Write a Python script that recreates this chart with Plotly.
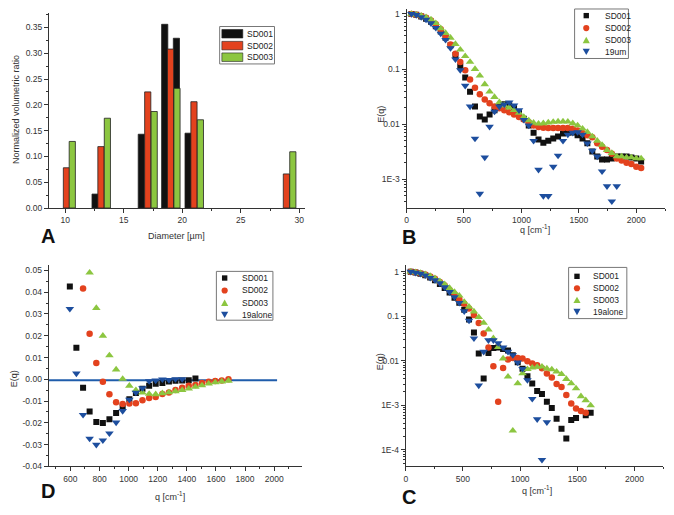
import plotly.graph_objects as go

# The page body adds an 8px margin, so the figure is sized/placed to compensate.
OFF = 8
W, H = 674 - OFF, 515 - OFF

# ---------------- Panel A : size distribution (bars) ----------------
a_sd001_x = [12.55, 16.5, 18.5, 19.5, 20.5]
a_sd001_y = [0.027, 0.143, 0.356, 0.329, 0.145]
a_sd002_x = [10.1, 13.05, 17.05, 19.0, 21.0, 28.9]
a_sd002_y = [0.078, 0.119, 0.225, 0.308, 0.206, 0.066]
a_sd003_x = [10.6, 13.6, 17.6, 19.55, 21.55, 29.45]
a_sd003_y = [0.129, 0.174, 0.187, 0.232, 0.171, 0.109]

# ---------------- Panel B : E(q) log ----------------
q_b = [43, 85, 128, 170, 213, 255, 298, 340, 383, 426, 468, 511, 553, 596, 638, 681,
       723, 766, 808, 851, 894, 936, 979, 1021, 1064, 1106, 1149, 1191, 1234, 1277,
       1319, 1362, 1404, 1447, 1489, 1532, 1574, 1617, 1660, 1702, 1745, 1787, 1830,
       1872, 1915, 1957, 2000, 2042]
b_sd001 = [1.0, 0.97, 0.9, 0.82, 0.72, 0.6, 0.48, 0.37, 0.27, 0.18,
           0.113, 0.07, 0.039, 0.021, 0.0138, 0.0122, 0.015, 0.018, 0.021, 0.023,
           0.022, 0.02, 0.016, 0.0125, 0.0095, 0.007, 0.0053, 0.0046, 0.005, 0.0055,
           0.006, 0.0068, 0.0071, 0.0071, 0.0063, 0.0055, 0.0045, 0.0032, 0.0026, 0.0023,
           0.0023, 0.0024, 0.0026, 0.0026, 0.0026, 0.0025, 0.0024, 0.0021]
b_sd002 = [1.0, 0.97, 0.92, 0.85, 0.76, 0.65, 0.53, 0.4, 0.28, 0.19,
           0.135, 0.095, 0.065, 0.046, 0.035, 0.028, 0.024, 0.021, 0.0195, 0.018,
           0.0165, 0.015, 0.0135, 0.0122, 0.0109, 0.0095, 0.0089, 0.0086, 0.0085, 0.0085,
           0.0085, 0.0085, 0.0085, 0.0083, 0.0077, 0.0069, 0.0063, 0.0058, 0.0045, 0.0039,
           0.0034, 0.0029, 0.0024, 0.0022, 0.002, 0.0019, 0.0017, 0.0016]
b_sd003 = [1.0, 0.97, 0.93, 0.87, 0.79, 0.68, 0.55, 0.45, 0.37, 0.285,
           0.225, 0.171, 0.135, 0.1, 0.076, 0.053, 0.039, 0.031, 0.025, 0.022,
           0.02, 0.018, 0.016, 0.0135, 0.0117, 0.0106, 0.0102, 0.0104, 0.0107, 0.011,
           0.0112, 0.0112, 0.0111, 0.0104, 0.0095, 0.0083, 0.0072, 0.006, 0.005, 0.0042,
           0.0034, 0.003, 0.0026, 0.0026, 0.0025, 0.0025, 0.0024, 0.0024]
b_19um = [1.0, 0.96, 0.88, 0.79, 0.68, 0.56, 0.44, 0.34, 0.24, 0.15,
          0.096, 0.05, 0.021, 0.0055, 0.00055, 0.0025, 0.009, 0.017, 0.021, 0.023,
          0.025, 0.022, 0.018, 0.012, 0.0095, 0.005, 0.0015, 0.0005, 0.0005, 0.0017,
          0.0027, 0.005, 0.0065, 0.007, 0.0072, 0.0065, 0.0045, 0.0033, 0.0026, 0.0014,
          0.00075, 0.0004, 0.00075]

# ---------------- Panel C : E(q) log ----------------
q_c = q_b[:38]
c_sd001 = [1.0, 0.96, 0.9, 0.83, 0.74, 0.64, 0.53, 0.43, 0.34, 0.26,
           0.2, 0.14, 0.085, 0.043, 0.0145, 0.004, 0.015, 0.0195, 0.02, 0.0185,
           0.017, 0.0133, 0.0093, 0.0066, 0.0045, 0.0031, 0.0021, 0.0018, 0.0012, 0.00087,
           0.0005, 0.0003, 0.00018, 0.00047, 0.00052, None, 0.0006, 0.00068]
c_sd002 = [1.0, 0.97, 0.92, 0.86, 0.78, 0.69, 0.59, 0.49, 0.39, 0.31,
           0.24, 0.19, 0.15, 0.107, 0.071, 0.041, 0.02, 0.0076, 0.0012, 0.0069,
           0.0107, 0.0116, 0.0116, 0.0112, 0.0098, 0.0087, 0.008, 0.0068, 0.0052, 0.0042,
           0.003, 0.0026, 0.0017, 0.0011, 0.00085, 0.00075, 0.00068, None]
c_sd003 = [1.0, 0.97, 0.93, 0.87, 0.8, 0.71, 0.61, 0.52, 0.43, 0.35,
           0.29, 0.21, 0.163, 0.127, 0.095, 0.071, 0.05, 0.032, 0.0204, 0.0112,
           0.0044, 0.00027, 0.0031, 0.0052, 0.0065, 0.007, 0.0073, 0.0074, 0.0067, 0.0064,
           0.0057, 0.005, 0.0039, 0.0031, 0.0024, 0.0016, 0.0013, 0.001]
c_19alone = [1.0, 0.95, 0.9, 0.83, 0.73, 0.65, 0.55, 0.45, 0.35, 0.27,
             0.2, 0.13, 0.08, 0.032, 0.0028, 0.016, 0.029, 0.029, 0.025, 0.02,
             0.016, 0.0135, 0.0092, 0.0066, 0.0037, 0.0014, 0.00049, 0.00006, 0.00042]

# ---------------- Panel D : difference (linear) ----------------
q_d = [596, 641, 687, 732, 778, 823, 868, 914, 959, 1005, 1050, 1095, 1141, 1186,
       1232, 1277, 1322, 1368, 1413, 1459, 1504, 1550, 1595, 1640, 1686]
d_sd001 = [0.0426, 0.0145, -0.0039, -0.0148, -0.0196, -0.0201, -0.0183, -0.0155, -0.0124,
           -0.0092, -0.0063, -0.0043, -0.003, -0.002, -0.0017, -0.001, -0.0007, -0.0005,
           -0.0004, 0.0004, None, None, None, None, None]
d_sd002 = [None, None, 0.0417, 0.0209, 0.0075, -0.0011, -0.0069, -0.0105, -0.0113, -0.0111,
           -0.011, -0.0096, -0.0086, -0.0081, -0.0067, -0.0061, -0.0049, -0.0039, -0.003,
           -0.0026, -0.0017, -0.0011, -0.0008, -0.0005, 0.0]
d_sd003 = [None, None, None, 0.049, 0.0327, 0.02, 0.011, 0.0045, 0.0002, -0.003, -0.005,
           -0.0061, -0.0067, -0.0069, -0.0064, -0.006, -0.0055, -0.005, -0.0043, -0.0035,
           -0.0028, -0.002, -0.0014, -0.001, -0.0007]
d_19alone = [0.0324, 0.0027, -0.0163, -0.0272, -0.03, -0.028, -0.0248, -0.0198, -0.0145,
             -0.0093, -0.0061, -0.004, -0.0008, -0.0005, 0.0, -0.0003, 0.0001, 0.0001,
             None, None, None, None, None, None, None]
d_base_x = [450, 2020]
d_base_y = [-0.0004, -0.0004]

# legend labels
a_names = ["SD001", "SD002", "SD003"]
b_names = ["SD001", "SD002", "SD003", "19um"]
c_names = ["SD001", "SD002", "SD003", "19alone"]
d_names = ["SD001", "SD002", "SD003", "19alone"]

# ---------------- styles ----------------
BLACK = "#111111"
RED = "#E3421E"
GREEN = "#8CC640"
BLUE = "#1D4E9E"
FONT = "Liberation Sans"
TICK_SIZE = 8.5
TITLE_SIZE = 9
LEG_SIZE = 8.5
BAR_COLORS = [BLACK, RED, GREEN]
SERIES_STYLE = [("square", BLACK, 6), ("circle", RED, 6.5),
                ("triangle-up", GREEN, 7.5), ("triangle-down", BLUE, 7.5)]


def px_x(px):
    return (px - OFF) / W


def px_y(py):
    return 1 - (py - OFF) / H


fig = go.Figure()

# Panel A bars
for nm, xs, ys, col in zip(a_names, [a_sd001_x, a_sd002_x, a_sd003_x],
                           [a_sd001_y, a_sd002_y, a_sd003_y], BAR_COLORS):
    fig.add_trace(go.Bar(x=xs, y=ys, name=nm, width=0.53, showlegend=False,
                         marker=dict(color=col, line=dict(color="#222222", width=0.8)),
                         xaxis="x", yaxis="y"))


def scat(x, y, name, sym, col, size, xa, ya):
    fig.add_trace(go.Scatter(x=x, y=y, name=name, mode="markers", showlegend=False,
                             marker=dict(symbol=sym, color=col, size=size, line=dict(width=0)),
                             xaxis=xa, yaxis=ya))


for (sym, col, sz), nm, ys in zip(SERIES_STYLE, b_names, [b_sd001, b_sd002, b_sd003, b_19um]):
    scat(q_b[:len(ys)], ys, nm, sym, col, sz, "x2", "y2")

fig.add_trace(go.Scatter(x=d_base_x, y=d_base_y, mode="lines", showlegend=False,
                         line=dict(color="#1F5CAB", width=2), xaxis="x3", yaxis="y3"))
for (sym, col, sz), nm, ys in zip(SERIES_STYLE, d_names, [d_sd001, d_sd002, d_sd003, d_19alone]):
    scat(q_d, ys, nm, sym, col, sz, "x3", "y3")

for (sym, col, sz), nm, ys in zip(SERIES_STYLE, c_names, [c_sd001, c_sd002, c_sd003, c_19alone]):
    scat(q_c[:len(ys)], ys, nm, sym, col, sz, "x4", "y4")

axis_common = dict(showline=True, linecolor="#333333", linewidth=1, ticks="outside",
                   ticklen=4, tickcolor="#333333", showgrid=False, zeroline=False,
                   mirror=False, tickfont=dict(family=FONT, size=TICK_SIZE, color="#333333"))
log_minor = [m * 10.0 ** e for e in range(-5, 1) for m in range(2, 10)]


def minor(dt=None, vals=None):
    d = dict(ticks="outside", ticklen=2, tickcolor="#333333")
    if vals is not None:
        d["tickvals"] = vals
    else:
        d["dtick"] = dt
        d["tick0"] = 0
    return d


fig.update_layout(
    width=W, height=H, margin=dict(l=0, r=0, t=0, b=0),
    paper_bgcolor="white", plot_bgcolor="white", barmode="overlay", showlegend=False,
    font=dict(family=FONT, size=TICK_SIZE, color="#333333"),
    xaxis=dict(axis_common, domain=[px_x(47), px_x(304)], anchor="y", range=[8.6, 30.5],
               tickvals=[10, 15, 20, 25, 30], minor=minor(2.5)),
    yaxis=dict(axis_common, domain=[px_y(210), px_y(13)], anchor="x", range=[0, 0.378],
               tickvals=[0, 0.05, 0.1, 0.15, 0.2, 0.25, 0.3, 0.35],
               ticktext=["0.00", "0.05", "0.10", "0.15", "0.20", "0.25", "0.30", "0.35"],
               minor=minor(0.025)),
    xaxis2=dict(axis_common, domain=[px_x(405.7), px_x(665)], anchor="y2", range=[0, 2250],
                tickvals=[0, 500, 1000, 1500, 2000], minor=minor(250)),
    yaxis2=dict(axis_common, domain=[px_y(210), px_y(9)], anchor="x2", type="log",
                range=[-3.52, 0.09], tickvals=[1, 0.1, 0.01, 0.001],
                ticktext=["1", "0.1", "0.01", "1E-3"], minor=minor(vals=log_minor)),
    xaxis3=dict(axis_common, domain=[px_x(46.7), px_x(300.7)], anchor="y3", range=[450, 2190],
                tickvals=[600, 800, 1000, 1200, 1400, 1600, 1800, 2000], minor=minor(100)),
    yaxis3=dict(axis_common, domain=[px_y(471), px_y(268)], anchor="x3", range=[-0.04, 0.0523],
                tickvals=[-0.04, -0.03, -0.02, -0.01, 0, 0.01, 0.02, 0.03, 0.04, 0.05],
                ticktext=["-0.04", "-0.03", "-0.02", "-0.01", "0.00", "0.01", "0.02",
                          "0.03", "0.04", "0.05"], minor=minor(0.005)),
    xaxis4=dict(axis_common, domain=[px_x(405), px_x(663)], anchor="y4", range=[0, 2250],
                tickvals=[0, 500, 1000, 1500, 2000], minor=minor(250)),
    yaxis4=dict(axis_common, domain=[px_y(471), px_y(268)], anchor="x4", type="log",
                range=[-4.37, 0.14], tickvals=[1, 0.1, 0.01, 0.001, 0.0001],
                ticktext=["1", "0.1", "0.01", "1E-3", "1E-4"], minor=minor(vals=log_minor)),
)

ann = []
shapes = []


def add_text(txt, px, py, size=TITLE_SIZE, angle=0, bold=False, anchor="center",
             color="#333333"):
    ann.append(dict(text=("<b>%s</b>" % txt) if bold else txt, x=px_x(px), y=px_y(py),
                    xref="paper", yref="paper", showarrow=False, textangle=angle,
                    xanchor=anchor, yanchor="middle",
                    font=dict(family=FONT, size=size, color=color)))


def box(x0, y0, x1, y1, fill="white", line="#777777", lw=1):
    shapes.append(dict(type="rect", xref="paper", yref="paper",
                       x0=px_x(x0), x1=px_x(x1), y0=px_y(y1), y1=px_y(y0),
                       fillcolor=fill, line=dict(color=line, width=lw)))


def glyph(sym, cx, cy, col):
    if sym == "square":
        s = 2.7
        box(cx - s, cy - s, cx + s, cy + s, fill=col, line=col, lw=0)
    elif sym == "circle":
        r = 3.1
        shapes.append(dict(type="circle", xref="paper", yref="paper",
                           x0=px_x(cx - r), x1=px_x(cx + r), y0=px_y(cy + r), y1=px_y(cy - r),
                           fillcolor=col, line=dict(width=0)))
    else:
        h = 3.2 if sym == "triangle-up" else -3.2
        pts = [(cx, cy - h), (cx + 3.6, cy + h), (cx - 3.6, cy + h)]
        path = "M " + " L ".join("%f,%f" % (px_x(a), px_y(b)) for a, b in pts) + " Z"
        shapes.append(dict(type="path", xref="paper", yref="paper", path=path,
                           fillcolor=col, line=dict(width=0)))


def marker_legend(x0, y0, x1, y1, rows, mark_x, text_x, names):
    box(x0, y0, x1, y1)
    for (sym, col, _), nm, ry in zip(SERIES_STYLE, names, rows):
        glyph(sym, mark_x, ry, col)
        add_text(nm, text_x, ry, size=LEG_SIZE, anchor="left", color="#222222")


# Legend A (bar swatches)
box(218.3, 26.7, 273.3, 64.5)
for nm, col, ry in zip(a_names, BAR_COLORS, [34, 46, 57.7]):
    box(220.5, ry - 4.3, 241.5, ry + 4.3, fill=col, line="#222222", lw=0.6)
    add_text(nm, 244, ry, size=LEG_SIZE, anchor="left", color="#222222")

marker_legend(574.3, 9, 628.3, 59, [15.7, 28.3, 40.3, 52.3], 586, 602.5, b_names)
marker_legend(215, 274, 271.7, 323.3, [280.7, 293.3, 305.7, 318], 223.3, 238.5, d_names)
marker_legend(568.3, 270, 626.7, 321.7, [279, 291, 302.7, 315], 576.7, 591, c_names)

add_text("Normalized volumetric ratio", 14, 110, angle=-90)
add_text("Diameter [µm]", 175, 238.5)
add_text("E(q)", 380, 115, angle=-90)
add_text("q [cm<sup>-1</sup>]", 535, 231.5)
add_text("E(q)", 12, 382, angle=-90)
add_text("q [cm<sup>-1</sup>]", 168, 500.5)
add_text("E(q)", 380, 365, angle=-90)
add_text("q [cm<sup>-1</sup>]", 537, 494.5)
add_text("A", 46.5, 238, size=20, bold=True, color="#111111")
add_text("B", 408.5, 239, size=20, bold=True, color="#111111")
add_text("D", 46.5, 496, size=20, bold=True, color="#111111")
add_text("C", 408.5, 502, size=20, bold=True, color="#111111")

fig.update_layout(annotations=ann, shapes=shapes)

fig.write_html("out.html")
